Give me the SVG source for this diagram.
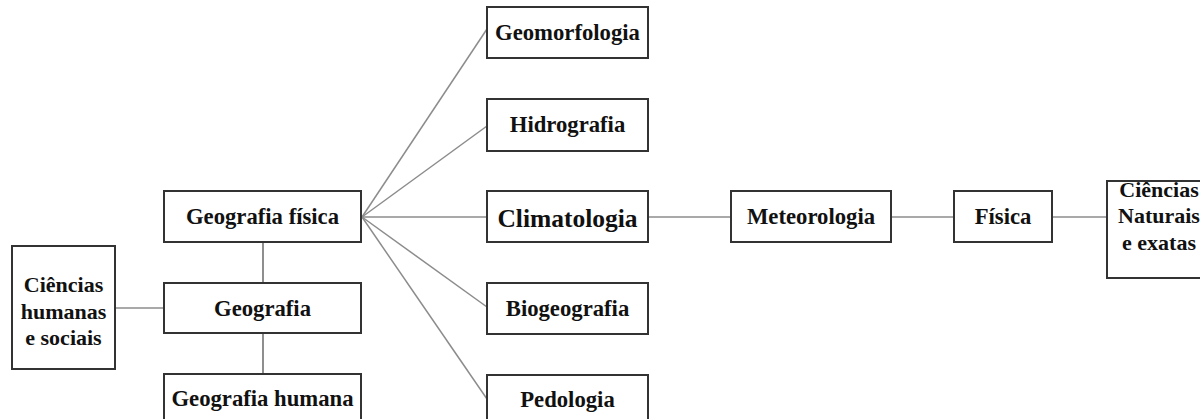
<svg xmlns="http://www.w3.org/2000/svg" width="1200" height="419" viewBox="0 0 1200 419">
  <style>
    .box { fill: #ffffff; stroke: #333333; stroke-width: 2; }
    .lbl { font-family: "Liberation Serif", "Times New Roman", serif; font-weight: bold; font-size: 22.7px; fill: #111111; text-anchor: middle; }
    .big { font-size: 25.5px; }
    .stack { font-size: 22px; }
    .link { stroke: #8c8c8c; stroke-width: 1.5; fill: none; }
    .stem { stroke: #444444; stroke-width: 1.2; fill: none; }
  </style>
  <rect width="1200" height="419" fill="#ffffff"/>

  <!-- connectors -->
  <g id="connectors">
    <line class="link" x1="115" y1="308" x2="164" y2="308"/>
    <line class="stem" x1="263" y1="242" x2="263" y2="283"/>
    <line class="stem" x1="263" y1="333" x2="263" y2="374"/>
    <line class="link" x1="362" y1="217" x2="487" y2="29"/>
    <line class="link" x1="362" y1="217" x2="487" y2="126"/>
    <line class="link" x1="362" y1="217" x2="487" y2="217"/>
    <line class="link" x1="362" y1="217" x2="487" y2="307"/>
    <line class="link" x1="362" y1="217" x2="487" y2="399"/>
    <line class="link" x1="648" y1="217" x2="731" y2="217"/>
    <line class="link" x1="891" y1="217" x2="954" y2="217"/>
    <line class="link" x1="1052" y1="217" x2="1107" y2="217"/>
  </g>

  <g id="ciencias-humanas">
    <rect class="box" x="12" y="246" width="103" height="123"/>
    <text class="lbl stack" x="63.5" y="292">Ciências</text>
    <text class="lbl stack" x="63.5" y="318.5">humanas</text>
    <text class="lbl stack" x="63.5" y="345">e sociais</text>
  </g>

  <g id="geografia-fisica">
    <rect class="box" x="164" y="191" width="197" height="51"/>
    <text class="lbl" x="262.5" y="224">Geografia física</text>
  </g>

  <g id="geografia">
    <rect class="box" x="164" y="283" width="197" height="50"/>
    <text class="lbl" x="262.5" y="315.5">Geografia</text>
  </g>

  <g id="geografia-humana">
    <rect class="box" x="164" y="374" width="197" height="51"/>
    <text class="lbl" x="262.5" y="406">Geografia humana</text>
  </g>

  <g id="geomorfologia">
    <rect class="box" x="487" y="7" width="161" height="51"/>
    <text class="lbl" x="567.5" y="39.5">Geomorfologia</text>
  </g>

  <g id="hidrografia">
    <rect class="box" x="487" y="99" width="161" height="52"/>
    <text class="lbl" x="567.5" y="131.5">Hidrografia</text>
  </g>

  <g id="climatologia">
    <rect class="box" x="487" y="191" width="161" height="51"/>
    <text class="lbl big" x="567.5" y="226.5">Climatologia</text>
  </g>

  <g id="biogeografia">
    <rect class="box" x="487" y="283" width="161" height="51"/>
    <text class="lbl" x="567.5" y="315.5">Biogeografia</text>
  </g>

  <g id="pedologia">
    <rect class="box" x="487" y="375" width="161" height="51"/>
    <text class="lbl" x="567.5" y="407">Pedologia</text>
  </g>

  <g id="meteorologia">
    <rect class="box" x="731" y="191" width="160" height="51"/>
    <text class="lbl" x="811" y="223.5">Meteorologia</text>
  </g>

  <g id="fisica">
    <rect class="box" x="954" y="191" width="98" height="51"/>
    <text class="lbl" x="1003" y="223.5">Física</text>
  </g>

  <g id="ciencias-naturais">
    <rect class="box" x="1107" y="181" width="110" height="97"/>
    <text class="lbl stack" x="1159" y="197">Ciências</text>
    <text class="lbl stack" x="1159" y="223">Naturais</text>
    <text class="lbl stack" x="1159" y="250">e exatas</text>
  </g>
</svg>
